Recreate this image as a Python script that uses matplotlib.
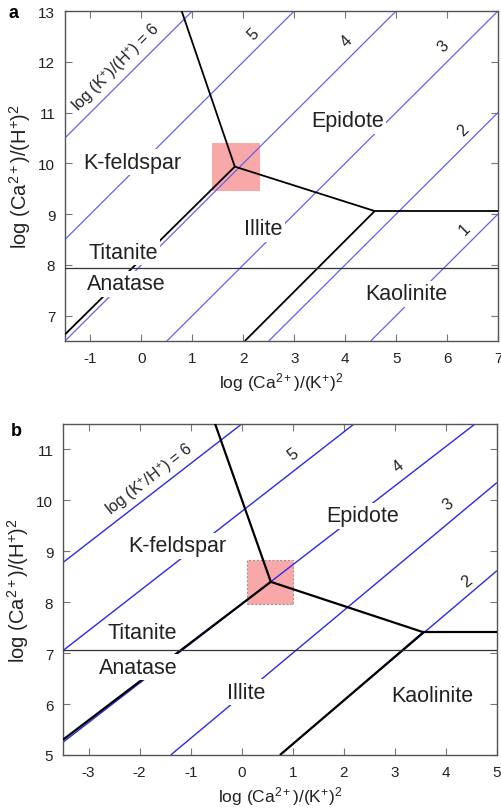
import matplotlib
matplotlib.use("Agg")
import matplotlib.pyplot as plt
from matplotlib.patches import Rectangle

plt.rcParams["font.family"] = ["Liberation Sans", "DejaVu Sans"]
plt.rcParams["mathtext.fontset"] = "custom"
plt.rcParams["mathtext.rm"] = "Liberation Sans"
plt.rcParams["mathtext.it"] = "Liberation Sans:italic"
plt.rcParams["axes.unicode_minus"] = False

# ---------------- panel a ----------------
A_XLIM = (-1.5, 7)
A_YLIM = (6.5, 13)
A_XTICKS = list(range(-1, 8))
A_YTICKS = list(range(7, 14))

# log(K+/H+) isolines, endpoints
A_LEVELS = [6, 5, 4, 3, 2, 1]
A_LEVEL_X0 = [-1.5, -1.5, -1.5, 0.5, 2.5, 4.5]
A_LEVEL_Y0 = [10.5, 8.5, 6.5, 6.5, 6.5, 6.5]
A_LEVEL_X1 = [1.0, 3.0, 5.0, 7.0, 7.0, 7.0]
A_LEVEL_Y1 = [13.0, 13.0, 13.0, 13.0, 11.0, 9.0]
A_NUM_TEXT = ["5", "4", "3", "2", "1"]
A_NUM_X = [2.19, 4.02, 5.92, 6.31, 6.34]
A_NUM_Y = [12.55, 12.42, 12.32, 10.66, 8.71]

# phase boundaries
A_KFS_EP_X, A_KFS_EP_Y = [0.79, 1.833], [13.0, 9.935]
A_EP_ILL_X, A_EP_ILL_Y = [1.833, 4.58], [9.935, 9.06]
A_EP_KAO_X, A_EP_KAO_Y = [4.58, 7.0], [9.06, 9.06]
A_ILL_KAO_X, A_ILL_KAO_Y = [4.58, 2.03], [9.06, 6.5]
A_KFS_ILL_X, A_KFS_ILL_Y = [1.833, -1.5], [9.935, 6.63]
A_TTN_ANT = 7.94

A_FIELDS = ["K-feldspar", "Epidote", "Illite", "Titanite", "Anatase", "Kaolinite"]
A_FIELD_X = [-0.17, 4.04, 2.39, -0.36, -0.30, 5.21]
A_FIELD_Y = [10.02, 10.84, 8.71, 8.25, 7.63, 7.43]
A_BOX = [1.39, 9.46, 2.32, 10.40]  # x0, y0, x1, y1

# ---------------- panel b ----------------
B_XLIM = (-3.5, 5)
B_YLIM = (5, 11.5)
B_XTICKS = list(range(-3, 6))
B_YTICKS = list(range(5, 12))

B_LEVELS = [6, 5, 4, 3, 2]
B_LEVEL_X0 = [-3.5, -3.5, -3.5, -1.39, 0.75]
B_LEVEL_Y0 = [8.78, 7.05, 5.25, 5.0, 5.0]
B_LEVEL_X1 = [0.0, 2.2, 4.57, 5.0, 5.0]
B_LEVEL_Y1 = [11.5, 11.5, 11.5, 10.35, 8.62]
B_NUM_TEXT = ["5", "4", "3", "2"]
B_NUM_X = [1.01, 3.07, 4.05, 4.41]
B_NUM_Y = [10.91, 10.68, 9.93, 8.42]

B_KFS_EP_X, B_KFS_EP_Y = [-0.52, 0.57], [11.5, 8.40]
B_EP_ILL_X, B_EP_ILL_Y = [0.57, 3.56], [8.40, 7.41]
B_EP_KAO_X, B_EP_KAO_Y = [3.56, 5.0], [7.41, 7.41]
B_ILL_KAO_X, B_ILL_KAO_Y = [3.56, 0.75], [7.41, 5.0]
B_KFS_ILL_X, B_KFS_ILL_Y = [0.57, -3.5], [8.40, 5.30]
B_TTN_ANT = 7.07

B_FIELDS = ["K-feldspar", "Epidote", "Illite", "Titanite", "Anatase", "Kaolinite"]
B_FIELD_X = [-1.27, 2.37, 0.08, -1.94, -2.03, 3.73]
B_FIELD_Y = [9.11, 9.70, 6.23, 7.41, 6.72, 6.17]
B_BOX = [0.10, 7.96, 1.0, 8.83]

XLABEL = r"log (Ca$^{2+}$)/(K$^{+}$)$^{2}$"
YLABEL = r"log (Ca$^{2+}$)/(H$^{+}$)$^{2}$"
INK = "#222222"
SPINE = "#555555"
PINK = "#f8a8a8"


def panel(ax, xlim, ylim, xticks, yticks, lx0, ly0, lx1, ly1, blue, blw,
          bounds, blk_lw, hline, fields, fx, fy, box, box_edge,
          nums, nx, ny, num_rot, line_label, ll_xy, ll_rot, letter, letter_xy):
    ax.set_xlim(*xlim)
    ax.set_ylim(*ylim)
    ax.set_xticks(xticks)
    ax.set_yticks(yticks)
    ax.tick_params(direction="in", top=True, right=True, length=5, width=0.8,
                   color="#777777", labelsize=11, labelcolor=INK, pad=7)
    for s in ax.spines.values():
        s.set_color(SPINE)
        s.set_linewidth(1.0)

    x0, y0, x1, y1 = box
    ax.add_patch(Rectangle((x0, y0), x1 - x0, y1 - y0, facecolor=PINK,
                           edgecolor="#999999" if box_edge else "none",
                           linestyle=(0, (2, 1.5)), linewidth=0.8, zorder=1))

    for a, b, c, d in zip(lx0, ly0, lx1, ly1):
        ax.plot([a, c], [b, d], color=blue, lw=blw, zorder=2,
                solid_capstyle="butt")
    for bx, by in bounds:
        ax.plot(bx, by, color="black", lw=blk_lw, zorder=3,
                solid_capstyle="butt", solid_joinstyle="miter")
    ax.axhline(hline, color="#333333", lw=0.9, zorder=5)

    for name, x, y in zip(fields, fx, fy):
        ax.text(x, y, name, fontsize=15.5, color=INK, ha="center", va="center",
                zorder=4, bbox=dict(boxstyle="square,pad=0.12", fc="white",
                                    ec="none"))
    for t, x, y in zip(nums, nx, ny):
        ax.text(x, y, t, fontsize=11.5, color=INK, ha="center", va="center",
                rotation=num_rot, zorder=4)
    ax.text(ll_xy[0], ll_xy[1], line_label, fontsize=11.5, color=INK,
            ha="center", va="center", rotation=ll_rot, zorder=4)

    ax.set_xlabel(XLABEL, fontsize=12.5, color=INK, labelpad=4)
    ax.set_ylabel(YLABEL, fontsize=14.5, color=INK, labelpad=4)
    ax.text(letter_xy[0], letter_xy[1], letter, transform=ax.transAxes,
            fontsize=13, fontweight="bold", ha="center", va="center")


fig = plt.figure(figsize=(5.02, 8.12), dpi=100)
fig.patch.set_facecolor("white")

ax_a = fig.add_axes([0.1295, 0.5788, 0.8625, 0.4064])
panel(ax_a, A_XLIM, A_YLIM, A_XTICKS, A_YTICKS,
      A_LEVEL_X0, A_LEVEL_Y0, A_LEVEL_X1, A_LEVEL_Y1, "#6262f0", 0.9,
      [(A_KFS_EP_X, A_KFS_EP_Y), (A_EP_ILL_X, A_EP_ILL_Y),
       (A_EP_KAO_X, A_EP_KAO_Y), (A_ILL_KAO_X, A_ILL_KAO_Y),
       (A_KFS_ILL_X, A_KFS_ILL_Y)], 1.3, A_TTN_ANT,
      A_FIELDS, A_FIELD_X, A_FIELD_Y, A_BOX, False,
      A_NUM_TEXT, A_NUM_X, A_NUM_Y, 45,
      r"log (K$^{+}$)/(H$^{+}$) = 6", (-0.49, 11.89), 45, "a", (-0.12, 0.997))

ax_b = fig.add_axes([0.1255, 0.0690, 0.8645, 0.4076])
panel(ax_b, B_XLIM, B_YLIM, B_XTICKS, B_YTICKS,
      B_LEVEL_X0, B_LEVEL_Y0, B_LEVEL_X1, B_LEVEL_Y1, "#2a2ae8", 1.0,
      [(B_KFS_EP_X, B_KFS_EP_Y), (B_EP_ILL_X, B_EP_ILL_Y),
       (B_EP_KAO_X, B_EP_KAO_Y), (B_ILL_KAO_X, B_ILL_KAO_Y),
       (B_KFS_ILL_X, B_KFS_ILL_Y)], 1.6, B_TTN_ANT,
      B_FIELDS, B_FIELD_X, B_FIELD_Y, B_BOX, True,
      B_NUM_TEXT, B_NUM_X, B_NUM_Y, 38,
      r"log (K$^{+}$/H$^{+}$) = 6", (-1.80, 10.42), 38, "b", (-0.108, 0.979))

fig.savefig("out.png", dpi=100, facecolor="white")
